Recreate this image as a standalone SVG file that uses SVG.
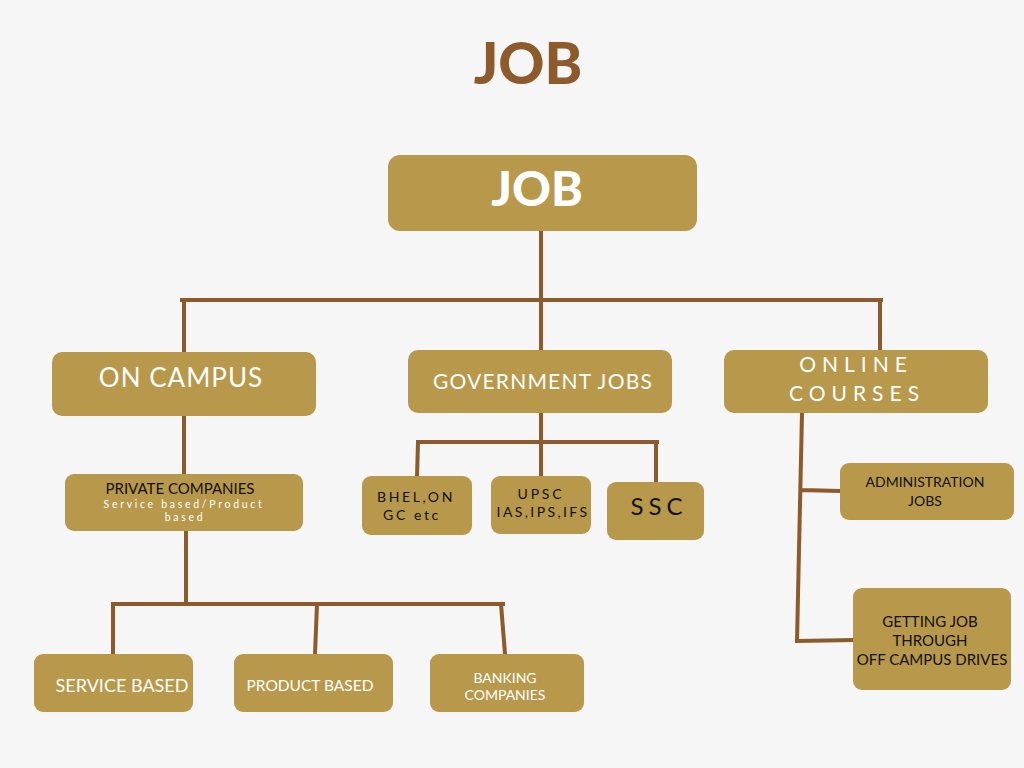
<svg xmlns="http://www.w3.org/2000/svg" width="1024" height="768" viewBox="0 0 1024 768">
  <style>
    .box { fill: #b8984a; }
    .ln { stroke: #8d5a2b; stroke-width: 4; fill: none; stroke-linecap: square; }
    .w { fill: #ffffff; font-family: Lato, "Open Sans", sans-serif; text-anchor: middle; }
    .k { fill: #111111; font-family: Lato, "Open Sans", sans-serif; text-anchor: middle; }
  </style>
  <rect width="1024" height="768" fill="#f6f6f6"/>

  <text x="528" y="84" font-family="Lato, 'Open Sans', sans-serif" font-weight="900" font-size="57" fill="#8d5a2b" text-anchor="middle">JOB</text>

  <g id="connectors">
    <path class="ln" d="M541 231 V300 M182 300 H881 M184 300 V352 M541 300 V350 M880 300 V350"/>
    <path class="ln" d="M184 416 V474 M186 531 V604 M113 604 H503 M113 604 V654 M317 604 L315 654 M501 604 L505 654"/>
    <path class="ln" d="M541 413 V442 M418 442 H657 M418 442 L417 477 M541 442 V477 M656 442 V483"/>
    <path class="ln" d="M802 413 L797 641 M802 490 L840 491 M797 641 L853 640"/>
  </g>

  <g id="job">
    <rect class="box" x="388" y="155" width="309" height="76" rx="12"/>
    <text class="w" x="537" y="206" font-size="48" font-weight="900">JOB</text>
  </g>

  <g id="on-campus">
    <rect class="box" x="52" y="352" width="264" height="64" rx="10"/>
    <text class="w" x="181" y="387" font-size="26" letter-spacing="1">ON CAMPUS</text>
  </g>

  <g id="government-jobs">
    <rect class="box" x="408" y="350" width="264" height="63" rx="10"/>
    <text class="w" x="543" y="389" font-size="21" letter-spacing="1.2">GOVERNMENT JOBS</text>
  </g>

  <g id="online-courses">
    <rect class="box" x="724" y="350" width="264" height="63" rx="10"/>
    <text class="w" x="856" y="372" font-size="21" letter-spacing="6">ONLINE</text>
    <text class="w" x="857" y="401" font-size="21" letter-spacing="6">COURSES</text>
  </g>

  <g id="private-companies">
    <rect class="box" x="65" y="474" width="238" height="57" rx="9"/>
    <text class="k" x="180" y="494" font-size="15">PRIVATE COMPANIES</text>
    <text class="w" x="184" y="508" font-size="10.5" letter-spacing="2.7">Service based/Product</text>
    <text class="w" x="185" y="521" font-size="10.5" letter-spacing="2.7">based</text>
  </g>

  <g id="service-based">
    <rect class="box" x="34" y="654" width="159" height="58" rx="9"/>
    <text class="w" x="122" y="692" font-size="18">SERVICE BASED</text>
  </g>

  <g id="product-based">
    <rect class="box" x="234" y="654" width="159" height="58" rx="9"/>
    <text class="w" x="310" y="691" font-size="15.5">PRODUCT BASED</text>
  </g>

  <g id="banking-companies">
    <rect class="box" x="430" y="654" width="154" height="58" rx="9"/>
    <text class="w" x="505" y="683" font-size="14">BANKING</text>
    <text class="w" x="505" y="700" font-size="14">COMPANIES</text>
  </g>

  <g id="bhel">
    <rect class="box" x="362" y="476" width="110" height="59" rx="9"/>
    <text class="k" x="416" y="502" font-size="14" letter-spacing="2.6">BHEL,ON</text>
    <text class="k" x="412" y="520" font-size="14" letter-spacing="2.6">GC etc</text>
  </g>

  <g id="upsc">
    <rect class="box" x="491" y="476" width="100" height="58" rx="9"/>
    <text class="k" x="541" y="499" font-size="14" letter-spacing="2.8">UPSC</text>
    <text class="k" x="543" y="517" font-size="14" letter-spacing="2.4">IAS,IPS,IFS</text>
  </g>

  <g id="ssc">
    <rect class="box" x="607" y="482" width="97" height="58" rx="9"/>
    <text class="k" x="659" y="515" font-size="24" letter-spacing="5">SSC</text>
  </g>

  <g id="administration-jobs">
    <rect class="box" x="840" y="463" width="174" height="57" rx="9"/>
    <text class="k" x="925" y="487" font-size="14">ADMINISTRATION</text>
    <text class="k" x="925" y="506" font-size="14">JOBS</text>
  </g>

  <g id="off-campus">
    <rect class="box" x="853" y="588" width="158" height="102" rx="9"/>
    <text class="k" x="930" y="627" font-size="15">GETTING JOB</text>
    <text class="k" x="930" y="646" font-size="15">THROUGH</text>
    <text class="k" x="932" y="665" font-size="15">OFF CAMPUS DRIVES</text>
  </g>
</svg>
